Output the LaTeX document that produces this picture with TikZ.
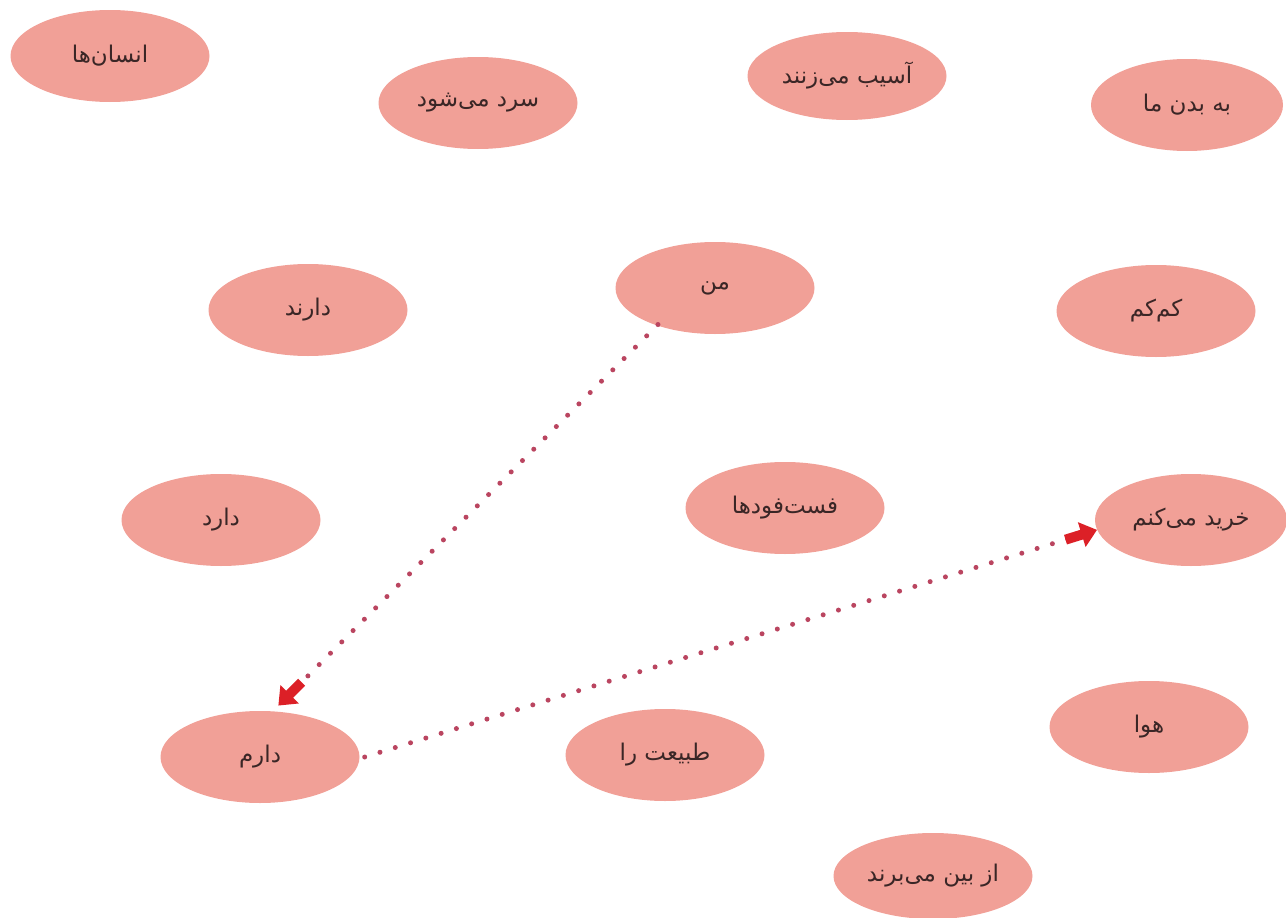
\documentclass[tikz,border=0pt]{standalone}
\usepackage{fontspec}
\newfontfamily\arabicfont[Script=Arabic]{DejaVu Sans}
\TeXXeTstate=1
\usetikzlibrary{shapes.geometric,arrows.meta,calc}
\definecolor{ellfill}{HTML}{F1A097}
\definecolor{dotred}{HTML}{BA4560}
\definecolor{arrred}{HTML}{DC2027}
\definecolor{txtcol}{HTML}{3A2626}
\newcommand{\fa}[1]{{\arabicfont\beginR #1\endR}}
\tikzset{
  bubble/.style={ellipse, fill=ellfill, minimum width=199pt, minimum height=92pt,
    inner sep=0pt, text=txtcol, font=\fontsize{23}{26}\selectfont},
  dotline/.style={dotred, line width=5pt, line cap=round, dash pattern=on 0pt off 16pt},
  blockarrow/.style={arrred, line width=10pt, -{Triangle[length=16pt,width=25pt]}}
}
\begin{document}
\begin{tikzpicture}[x=1pt,y=-1pt]
\useasboundingbox (0,0) rectangle (1286,918);
\node[bubble] (ensanha) at (110,56) {\fa{انسان^^^^200cها}};
\node[bubble] (sard) at (478,103) {\fa{سرد می^^^^200cشود}};
\node[bubble, minimum height=88pt] (asib) at (847,76) {\fa{آسیب می^^^^200cزنند}};
\node[bubble, minimum width=192pt] (badan) at (1187,105) {\fa{به بدن ما}};
\node[bubble] (man) at (715,288) {\fa{من}};
\node[bubble] (darand) at (308,310) {\fa{دارند}};
\node[bubble] (kamkam) at (1156,311) {\fa{کم^^^^200cکم}};
\node[bubble] (darad) at (221,520) {\fa{دارد}};
\node[bubble] (fastfood) at (785,508) {\fa{فست^^^^200cفودها}};
\node[bubble, minimum width=192pt] (kharid) at (1191,520) {\fa{خرید می^^^^200cکنم}};
\node[bubble] (hava) at (1149,727) {\fa{هوا}};
\node[bubble] (daram) at (260,757) {\fa{دارم}};
\node[bubble] (tabiat) at (665,755) {\fa{طبیعت را}};
\node[bubble, minimum height=86pt] (azbein) at (933,876) {\fa{از بین می^^^^200cبرند}};

\coordinate (s1) at ($(man.215)+(-2pt,2pt)$);
\coordinate (t1) at ($(daram.68)+(0pt,6pt)$);
\draw[dotline] (s1) -- (t1);
\draw[blockarrow] ($(t1)!33pt!(s1)$) -- (t1);

\coordinate (s2) at ($(daram.east)+(5pt,0pt)$);
\coordinate (t2) at (kharid.186);
\draw[dotline] (s2) -- (t2);
\draw[blockarrow] ($(t2)!33pt!(s2)$) -- (t2);
\end{tikzpicture}
\end{document}
